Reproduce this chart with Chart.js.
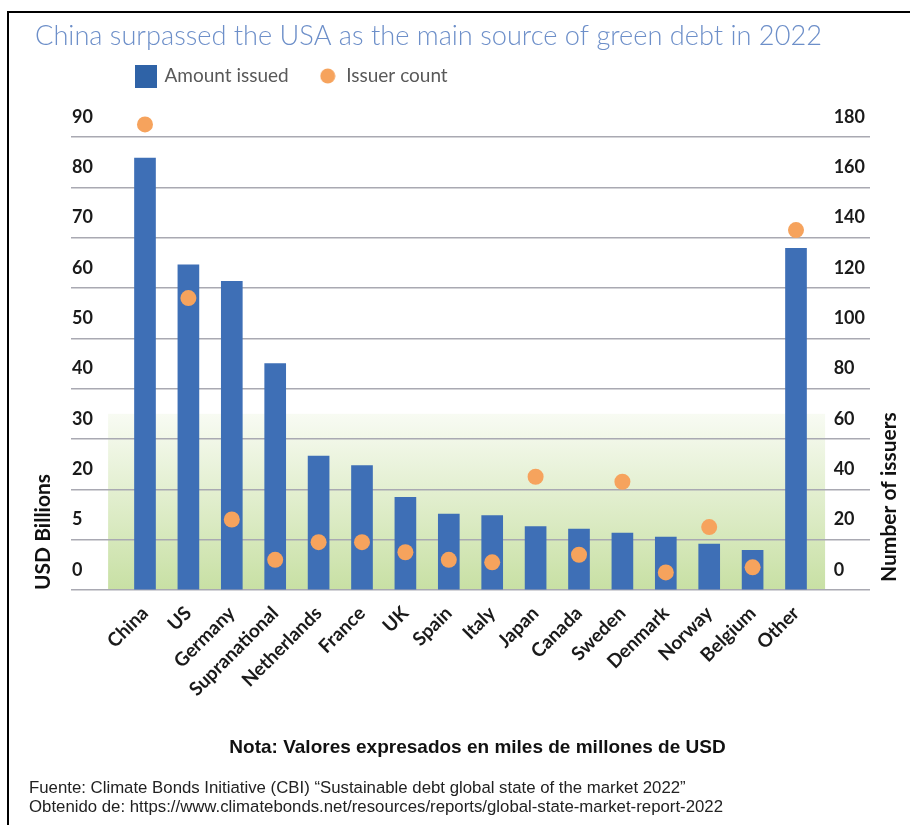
<!DOCTYPE html>
<html>
<head>
<meta charset="utf-8">
<script src="https://cdn.jsdelivr.net/npm/chart.js@4.4.1/dist/chart.umd.min.js"></script>
<style>
html,body{margin:0;padding:0;background:#fff;width:910px;height:825px;overflow:hidden;}
#frame{position:absolute;left:7px;top:11px;width:1000px;height:1000px;border-top:2px solid #000;border-left:2px solid #000;}
#wrap{position:absolute;left:0;top:0;width:910px;height:825px;}
#nota{position:absolute;left:0;width:955px;top:737px;line-height:20px;text-align:center;font-weight:bold;font-size:19px;font-family:"Liberation Sans",Arial,sans-serif;color:#111;}
#fuente{position:absolute;left:29px;top:778px;line-height:19px;font-size:16.8px;font-family:"Liberation Sans",Arial,sans-serif;color:#222;white-space:nowrap;}
</style>
</head>
<body>
<div id="frame"></div>
<div id="wrap"><canvas id="c"></canvas></div>
<div id="nota">Nota: Valores expresados en miles de millones de USD</div>
<div id="fuente">Fuente: Climate Bonds Initiative (CBI) “Sustainable debt global state of the market 2022”<br>Obtenido de: https://www.climatebonds.net/resources/reports/global-state-market-report-2022</div>
<script>
const categories = ['China','US','Germany','Supranational','Netherlands','France','UK','Spain','Italy','Japan','Canada','Sweden','Denmark','Norway','Belgium','Other'];
const amountIssued = [85.8, 64.6, 61.3, 45.0, 26.6, 24.7, 18.4, 15.1, 14.8, 12.6, 12.1, 11.3, 10.5, 9.1, 7.9, 67.9];
const issuerCount = [185, 116, 28, 12, 19, 19, 15, 12, 11, 45, 14, 43, 7, 25, 9, 143];
const leftTickLabels = ['0','5','20','30','40','50','60','70','80','90'];
const rightTickLabels = ['0','20','40','60','80','100','120','140','160','180'];

const BAR_COLOR = '#3e6fb6';
const DOT_COLOR = '#f6a35d';

function makeIcon(kind) {
  const c = document.createElement('canvas');
  const g = c.getContext('2d');
  if (kind === 'square') {
    c.width = 22; c.height = 23;
    g.fillStyle = '#2f63a7'; g.fillRect(0, 0, 22, 23);
  } else {
    c.width = 16; c.height = 16;
    g.fillStyle = DOT_COLOR; g.beginPath(); g.arc(8, 8, 7.5, 0, Math.PI * 2); g.fill();
  }
  return c;
}
const squareIcon = makeIcon('square');
const circleIcon = makeIcon('circle');

const tweaks = {
  id: 'tweaks',
  afterLayout(chart) {
    const lg = chart.legend;
    if (lg) { lg.left += 72; lg.right += 72; lg.top -= 16.3; lg.bottom -= 16.3; }
  },
  beforeDraw(chart) {
    const {ctx, scales: {x, y}} = chart;
    const l = x.getPixelForValue(-0.85), r = x.getPixelForValue(15.67);
    const t = y.getPixelForValue(35), b = y.getPixelForValue(0);
    const g = ctx.createLinearGradient(0, t, 0, b);
    g.addColorStop(0, '#f8fbf3');
    g.addColorStop(1, '#c8e0a4');
    ctx.save();
    ctx.fillStyle = g;
    ctx.fillRect(l, t, r - l, b - t);
    ctx.restore();
  },
  afterDraw(chart) {
    const {ctx, chartArea} = chart;
    ctx.save();
    ctx.font = 'bold 21px Lato';
    ctx.fillStyle = '#111';
    ctx.textAlign = 'left';
    ctx.textBaseline = 'middle';
    ctx.translate(chartArea.right + 19, chartArea.bottom - 8);
    ctx.rotate(-Math.PI / 2);
    ctx.fillText('Number of issuers', 0, 0);
    ctx.restore();
  }
};

const tickFont = {family: 'Lato', size: 18, weight: 'bold'};

new Chart(document.getElementById('c'), {
  type: 'bar',
  data: {
    datasets: [
      {
        type: 'bar',
        label: 'Amount issued',
        data: categories.map((c, i) => ({x: i, y: amountIssued[i]})),
        backgroundColor: BAR_COLOR,
        barThickness: 21,
        xAxisID: 'x',
        yAxisID: 'y',
        order: 1
      },
      {
        type: 'line',
        label: 'Issuer count',
        data: categories.map((c, i) => ({x: i, y: issuerCount[i]})),
        showLine: false,
        pointRadius: 8,
        pointHoverRadius: 8,
        pointBackgroundColor: DOT_COLOR,
        pointBorderColor: DOT_COLOR,
        pointBorderWidth: 0,
        backgroundColor: DOT_COLOR,
        borderColor: DOT_COLOR,
        xAxisID: 'x',
        yAxisID: 'y1',
        clip: false,
        order: 0
      }
    ]
  },
  options: {
    responsive: true,
    maintainAspectRatio: false,
    animation: false,
    layout: {padding: {top: 12, left: 35, right: 0, bottom: 0}},
    scales: {
      x: {
        type: 'linear',
        min: -1.705,
        max: 16.705,
        offset: false,
        afterBuildTicks: (axis) => { axis.ticks = categories.map((c, i) => ({value: i})); },
        afterFit: (axis) => { axis.height = 235; },
        grid: {display: false},
        border: {display: false},
        ticks: {
          autoSkip: false, minRotation: 45, maxRotation: 45, padding: 4,
          color: '#1a1a1a', font: {family: 'Lato', size: 19, weight: 'bold'},
          callback: (v) => categories[Math.round(v)]
        }
      },
      y: {
        position: 'left',
        min: 0, max: 95,
        afterBuildTicks: (axis) => { axis.ticks = leftTickLabels.map((l, i) => ({value: i * 10})); },
        afterFit: (axis) => { axis.width = 36; },
        ticks: {
          mirror: true, padding: 1, labelOffset: -20,
          color: '#1a1a1a', font: tickFont,
          callback: (v) => leftTickLabels[Math.round(v / 10)]
        },
        grid: {color: '#a9a9b2', lineWidth: 1.6, drawTicks: false},
        border: {display: false},
        title: {
          display: true, text: 'USD Billions', align: 'start', color: '#111',
          font: {family: 'Lato', size: 21, weight: 'bold'},
          padding: {top: -4.6, bottom: 0}
        }
      },
      y1: {
        position: 'right',
        min: 0, max: 190,
        afterBuildTicks: (axis) => { axis.ticks = rightTickLabels.map((l, i) => ({value: i * 20})); },
        afterFit: (axis) => { axis.width = 40; },
        ticks: {
          mirror: true, crossAlign: 'far', padding: -5, labelOffset: -20,
          color: '#1a1a1a', font: tickFont,
          callback: (v) => rightTickLabels[Math.round(v / 20)]
        },
        grid: {display: false, drawTicks: false},
        border: {display: false}
      }
    },
    plugins: {
      tooltip: {enabled: false},
      title: {
        display: true,
        text: 'China surpassed the USA as the main source of green debt in 2022',
        align: 'start',
        color: '#6d8fc9',
        font: {family: 'Lato', size: 27.2, weight: '300'},
        padding: {top: 7.5, bottom: 0.66}
      },
      legend: {
        display: true,
        position: 'top',
        align: 'start',
        labels: {
          usePointStyle: true,
          boxWidth: 18,
          boxHeight: 18,
          padding: 30,
          color: '#595959',
          font: {family: 'Lato', size: 19},
          sort: (a, b) => a.datasetIndex - b.datasetIndex,
          generateLabels: (chart) => {
            const items = Chart.defaults.plugins.legend.labels.generateLabels(chart);
            items.forEach(it => { it.pointStyle = it.datasetIndex === 0 ? squareIcon : circleIcon; });
            return items;
          }
        }
      }
    }
  },
  plugins: [tweaks]
});
</script>
</body>
</html>
